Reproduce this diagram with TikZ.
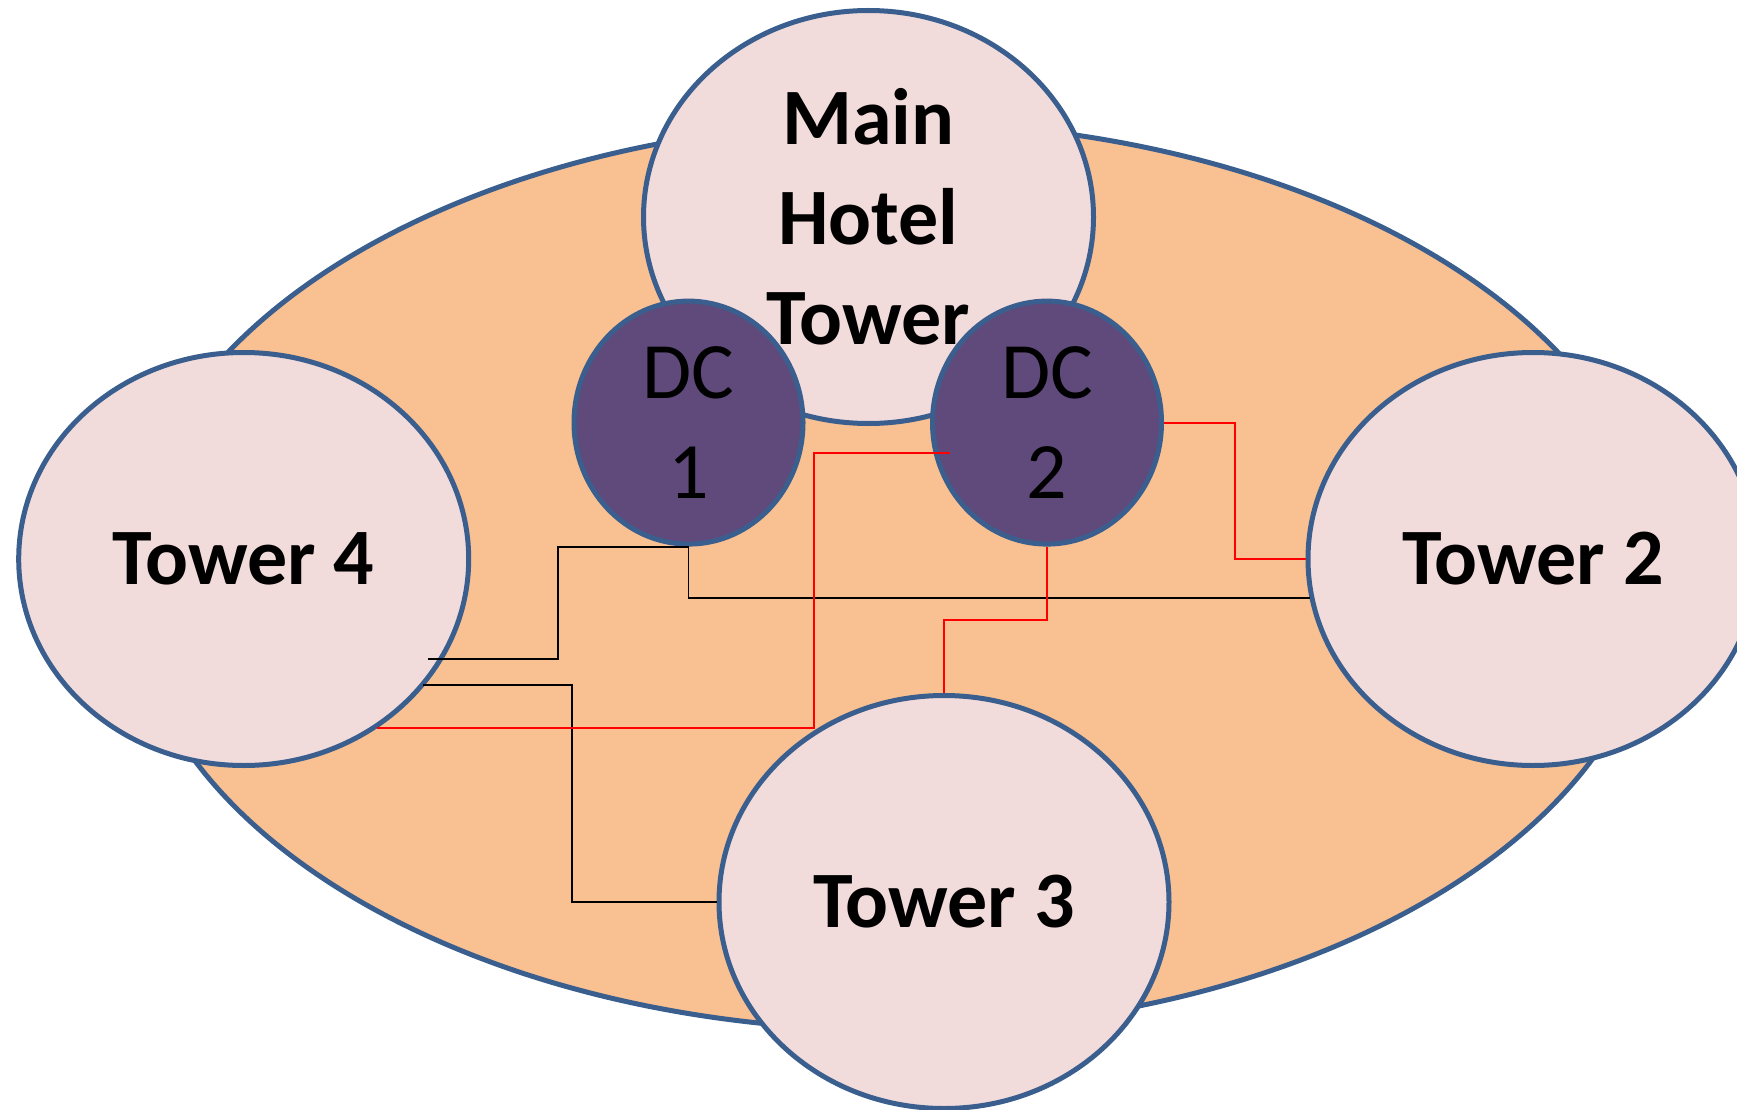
\documentclass[tikz,border=0pt]{standalone}
\usepackage{fontspec}
\setmainfont{Carlito}
\usetikzlibrary{shapes.geometric,calc}
\definecolor{rim}{HTML}{3A5F8E}
\definecolor{campus}{HTML}{F9C091}
\definecolor{bldg}{HTML}{F2DCDB}
\definecolor{dcfill}{HTML}{5F4A7B}
\begin{document}
\begin{tikzpicture}[x=1pt,y=-1pt,
  zone/.style={ellipse,draw=rim,line width=5pt,inner sep=0pt},
  tower/.style={zone,fill=bldg,minimum width=450pt,minimum height=413pt,
    font=\fontsize{80}{100}\selectfont\bfseries},
  dc/.style={zone,fill=dcfill,minimum width=229pt,minimum height=243pt,
    align=center,font=\fontsize{80}{100}\selectfont},
  blackwire/.style={black,line width=1.9pt},
  redwire/.style={red,line width=1.9pt}]
\clip (0,0) rectangle (1737,1110);

% campus grounds
\node[zone,fill=campus,minimum width=1528pt,minimum height=908pt] (campus) at (893,576) {};

% buildings
\node[tower] (main) at (868.5,217) {};
\node[tower] (t4) at (243.7,559) {Tower 4};
\node[tower] (t2) at (1533,559) {Tower 2};
\node[tower] (t3) at (944,902) {Tower 3};

% data centres
\node[dc] (dc1) at (688.5,422.6) {DC\\1};
\node[dc] (dc2) at (1047,422.6) {DC\\2};

\node[align=center,font=\fontsize{80}{100}\selectfont\bfseries] (mainlabel) at (main.center) {Main\\Hotel\\Tower};

% cable ends inside the buildings
\coordinate (t4a) at (427.6,659);
\coordinate (t4b) at (423,684.6);
\coordinate (t4c) at (376.6,727.8);
\coordinate (dc2a) at (950,453.3);

% black cabling
\draw[blackwire] (dc1.south) |- (t2.190);
\draw[blackwire] (dc1.south) -| (558,600) |- (t4a);
\draw[blackwire] (t4b) -| (571.6,800) |- (t3.west);

% red cabling
\draw[redwire] (t4c) -| (814,600) |- (dc2a);
\draw[redwire] (dc2.east) -| ($(dc2.east)!.5!(t2.west)$) |- (t2.west);
\draw[redwire] (dc2.south) |- ($(dc2.south)!.5!(t3.north)$) -| (t3.north);
\end{tikzpicture}
\end{document}
